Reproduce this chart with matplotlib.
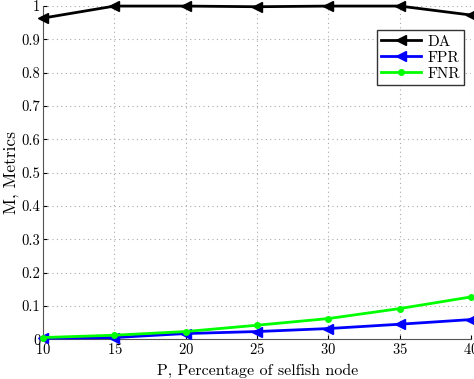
import numpy as np
import matplotlib
matplotlib.use('Agg')
import matplotlib.pyplot as plt

# data
p = [10, 15, 20, 25, 30, 35, 40]
da = [0.964, 1.0, 1.0, 0.998, 1.0, 1.0, 0.973]
fpr = [0.003, 0.005, 0.017, 0.023, 0.032, 0.045, 0.059]
fnr = [0.005, 0.012, 0.023, 0.042, 0.062, 0.092, 0.127]
yticks = [0, 0.1, 0.2, 0.3, 0.4, 0.5, 0.6, 0.7, 0.8, 0.9, 1]
ytick_labels = ['0', '0.1', '0.2', '0.3', '0.4', '0.5', '0.6', '0.7', '0.8', '0.9', '1']

plt.rcParams['font.family'] = 'cmr10'
plt.rcParams['axes.formatter.use_mathtext'] = True

fig = plt.figure(figsize=(4.74, 3.79), dpi=100)
ax = fig.add_axes([0.091, 0.105, 0.903, 0.879])

ax.plot(p, da, color='black', lw=2, marker='<', ms=7, label='DA', clip_on=False, zorder=4)
ax.plot(p, fpr, color='blue', lw=2, marker='<', ms=7, label='FPR', clip_on=False, zorder=3)
ax.plot(p, fnr, color='#00ff00', lw=2, marker='o', ms=4, label='FNR', clip_on=False, zorder=3)

ax.set_xlim(10, 40)
ax.set_ylim(0, 1)
ax.set_xticks(p)
ax.set_yticks(yticks)
ax.set_yticklabels(ytick_labels)
ax.tick_params(direction='in', labelsize=10.5, length=3, pad=2)
ax.grid(True, linestyle=(0, (1, 3)), color='#aaaaaa', lw=0.8)
for s in ['top', 'right']:
    ax.spines[s].set_visible(False)
for s in ['left', 'bottom']:
    ax.spines[s].set_color('#555555')

ax.set_xlabel('P, Percentage of selfish node', fontsize=11.5, labelpad=5)
ax.set_ylabel('M, Metrics', fontsize=12.5, labelpad=2)

leg = ax.legend(loc='upper right', bbox_to_anchor=(1.002, 0.95), fontsize=11,
                fancybox=False, framealpha=1, edgecolor='#333333',
                handlelength=2.6, handletextpad=0.4, borderpad=0.3, labelspacing=0.15)
leg.get_frame().set_linewidth(1.0)

fig.savefig('out.png', dpi=100)
